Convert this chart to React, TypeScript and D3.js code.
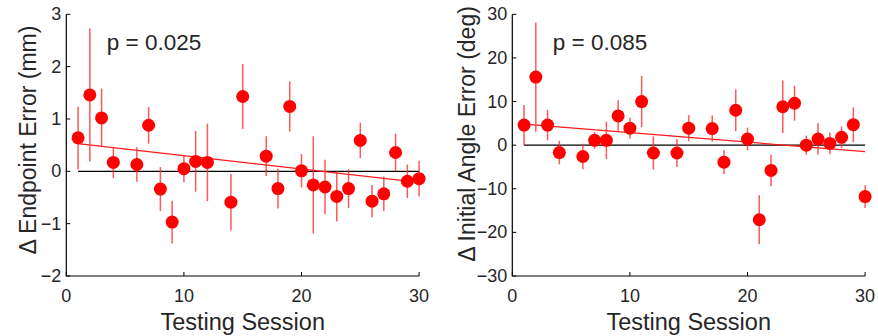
import React from "react";
import * as d3 from "d3";

// sessions with data (5, 13 and 16 have no point)
const sessions = [1, 2, 3, 4, 6, 7, 8, 9, 10, 11, 12, 14, 15, 17, 18, 19, 20, 21, 22, 23, 24, 25, 26, 27, 28, 29, 30];

// left panel: endpoint error change (mm)
const endpointMean = [0.64, 1.46, 1.02, 0.17, 0.13, 0.88, -0.34, -0.97, 0.05, 0.19, 0.17, -0.59, 1.43, 0.29, -0.33, 1.24, 0.01, -0.26, -0.3, -0.48, -0.33, 0.59, -0.57, -0.43, 0.36, -0.19, -0.14];
const endpointErr = [0.6, 1.27, 0.56, 0.3, 0.33, 0.35, 0.42, 0.41, 0.26, 0.58, 0.74, 0.54, 0.62, 0.38, 0.38, 0.48, 0.32, 0.93, 0.52, 0.48, 0.37, 0.34, 0.31, 0.33, 0.36, 0.32, 0.34];
const endpointFit = [0.53, -0.21]; // at session 1 and 30

// right panel: initial angle error change (deg)
const angleMean = [4.6, 15.6, 4.6, -1.7, -2.6, 1.1, 1.1, 6.7, 3.9, 10.0, -1.8, -1.8, 3.9, 3.8, -3.9, 8.0, 1.4, -17.1, -5.8, 8.8, 9.6, 0, 1.4, 0.4, 1.8, 4.7, -11.8];
const angleErr = [4.6, 12.5, 3.5, 2.7, 2.9, 1.9, 4.3, 3.6, 2.4, 5.9, 3.8, 3.2, 3.0, 3.0, 2.8, 4.8, 2.6, 5.6, 3.6, 6.0, 4.0, 2.2, 3.6, 2.5, 2.5, 4.0, 2.6];
const angleFit = [4.8, -1.47];

const xTicks = [0, 10, 20, 30];
const endpointTicks = [-2, -1, 0, 1, 2, 3];
const angleTicks = [-30, -20, -10, 0, 10, 20, 30];

const font = "'Liberation Sans', Arial, Helvetica, sans-serif";
const textColor = "#262626";
const top = 14.3;
const bottom = 276;

type PanelProps = {
  left: number;
  means: number[];
  errs: number[];
  fit: number[];
  yDomain: [number, number];
  yTicks: number[];
  yLabel: string;
  labelX: number;
  labelCenter: number;
  pText: string;
};

function Panel({ left, means, errs, fit, yDomain, yTicks, yLabel, labelX, labelCenter, pText }: PanelProps) {
  const x = d3.scaleLinear().domain([0, 30]).range([left, left + 352.8]);
  const y = d3.scaleLinear().domain(yDomain).range([bottom, top]);
  const fitLine = d3.line<number>().x((d, i) => x(i === 0 ? 1 : 30)).y((d) => y(d));
  const fmt = (v: number) => (v < 0 ? "\u2212" + Math.abs(v) : String(v));

  return (
    <g>
      {/* zero line */}
      <line x1={x(1)} x2={x(30)} y1={y(0)} y2={y(0)} stroke="#000" strokeWidth={1.2} />
      {/* regression line */}
      <path d={fitLine(fit) || ""} stroke="#ff1a1a" strokeWidth={1.2} fill="none" />
      {/* error bars */}
      {sessions.map((s, i) => (
        <line
          key={"e" + s}
          x1={x(s)}
          x2={x(s)}
          y1={y(means[i] - errs[i])}
          y2={y(means[i] + errs[i])}
          stroke="#ff3030"
          strokeOpacity={0.8}
          strokeWidth={1.5}
        />
      ))}
      {sessions.map((s, i) => (
        <circle key={"p" + s} cx={x(s)} cy={y(means[i])} r={6.5} fill="#ff0000" />
      ))}
      {/* axes */}
      <path
        d={`M${x(0)},${top}V${bottom}H${x(30)}`}
        stroke="#000"
        strokeWidth={1.2}
        fill="none"
      />
      {yTicks.map((t) => (
        <g key={"yt" + t}>
          <line x1={x(0)} x2={x(0) + 4} y1={y(t)} y2={y(t)} stroke="#000" strokeWidth={1} />
          <text
            x={x(0) - 5}
            y={y(t)}
            textAnchor="end"
            dominantBaseline="central"
            fontSize={18}
            fontFamily={font}
            fill={textColor}
          >
            {fmt(t)}
          </text>
        </g>
      ))}
      {xTicks.map((t) => (
        <g key={"xt" + t}>
          <line x1={x(t)} x2={x(t)} y1={bottom} y2={bottom - 4} stroke="#000" strokeWidth={1} />
          <text
            x={x(t)}
            y={bottom + 25.5}
            textAnchor="middle"
            fontSize={18}
            fontFamily={font}
            fill={textColor}
          >
            {t}
          </text>
        </g>
      ))}
      <text
        x={x(15)}
        y={330}
        textAnchor="middle"
        fontSize={23.5}
        fontFamily={font}
        fill={textColor}
      >
        Testing Session
      </text>
      <text
        transform={`translate(${labelX},${labelCenter}) rotate(-90)`}
        textAnchor="middle"
        fontSize={23}
        fontFamily={font}
        fill={textColor}
      >
        {yLabel}
      </text>
      <text x={left + 40.5} y={50} fontSize={22.5} fontFamily={font} fill={textColor}>
        {pText}
      </text>
    </g>
  );
}

export default function App() {
  return (
    <svg
      width={878}
      height={336}
      style={{ position: "absolute", left: 0, top: 0, background: "#fff" }}
    >
      <rect width={878} height={336} fill="#fff" />
      <Panel
        left={66.3}
        means={endpointMean}
        errs={endpointErr}
        fit={endpointFit}
        yDomain={[-2, 3]}
        yTicks={endpointTicks}
        yLabel={"\u0394 Endpoint Error (mm)"}
        labelX={35.5}
        labelCenter={140}
        pText="p = 0.025"
      />
      <Panel
        left={512.3}
        means={angleMean}
        errs={angleErr}
        fit={angleFit}
        yDomain={[-30, 30]}
        yTicks={angleTicks}
        yLabel={"\u0394 Initial Angle Error (deg)"}
        labelX={475}
        labelCenter={134}
        pText="p = 0.085"
      />
    </svg>
  );
}
